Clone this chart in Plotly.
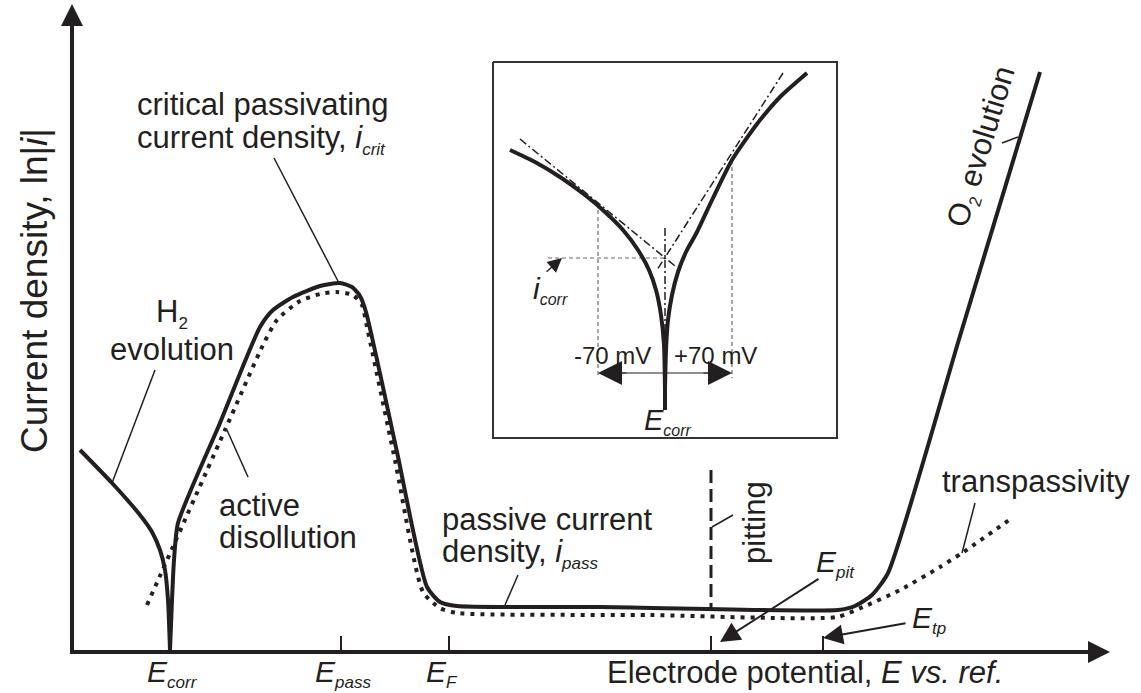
import plotly.graph_objects as go

W, H = 1141, 693
INK = "#231f20"
FONT = "Liberation Sans, Arial, Helvetica, sans-serif"

# ---------------- data (pixel-space schematic coordinates) ----------------
# cathodic H2-evolution branch of the measured curve (solid)
h2_x = [80, 112, 140, 152, 160, 165, 168, 170]
h2_y = [450, 483, 515, 532, 550, 570, 600, 650]
# anodic branch: active -> passive -> O2 evolution (solid)
an_x = [170, 172, 174, 178, 220, 260, 273, 293, 320, 340, 352, 360, 366, 397, 427, 440, 457, 600, 838, 855, 872, 888, 960, 1040]
an_y = [650, 600, 560, 523, 423, 327, 310, 297, 286, 283, 287, 296, 312, 452, 587, 602, 606, 607, 610, 606, 595, 573, 336, 72]
# metal dissolution partial curve incl. transpassivity (dotted)
dot_x = [147, 225, 263, 277, 300, 320, 337, 353, 362, 367, 395, 423, 440, 457, 650, 837, 863, 900, 940, 962, 1012]
dot_y = [605, 430, 345, 320, 301, 294, 292, 295, 305, 327, 460, 592, 608, 613, 615, 617, 607, 590, 567, 553, 518]

# inset (Tafel extrapolation)
cat_x = [510, 535, 560, 585, 605, 623, 638, 649, 656, 661, 664, 665]
cat_y = [150, 162, 177, 195, 212, 230, 250, 270, 290, 315, 345, 390]
ano_x = [665, 666, 668, 672, 678, 686, 697, 713, 732, 757, 780, 807]
ano_y = [390, 350, 320, 295, 272, 252, 232, 198, 160, 124, 97, 73]
tafel_c_x = [520, 675]
tafel_c_y = [139, 266]
tafel_a_x = [783, 657]
tafel_a_y = [73, 270]
e_corr_inset = 665
i_corr_inset = 258
e_minus70 = 598
e_plus70 = 732

# x-axis tick positions and labels
tick_x = [341, 449, 711, 823]
tick_lab_x = [172, 343, 442]
tick_lab = ["corr", "pass", "F"]

# ---------------- figure ----------------
fig = go.Figure()


def line(x, y, width=4, dash="solid", color=INK, smooth=None):
    kw = dict(color=color, width=width, dash=dash)
    if smooth:
        kw.update(shape="spline", smoothing=smooth)
    fig.add_trace(go.Scatter(x=x, y=y, mode="lines", line=kw,
                             hoverinfo="skip", showlegend=False))


# main curves
line(h2_x, h2_y, 4, smooth=0.6)
line(an_x, an_y, 4, smooth=0.6)
line(dot_x, dot_y, 4, dash="4px,6px", smooth=0.6)

# axes corner
line([72, 72, 300], [300, 652, 652], 4)

# ticks
tx, ty = [], []
for t in tick_x:
    tx += [t, t, None]
    ty += [636, 652, None]
line(tx, ty, 2)

# pitting dashed line
line([711, 711], [470, 608], 3, dash="13px,6px")

# leader lines
leaders = [((274, 158), (339, 283)), ((155, 370), (112, 483)), ((248, 477), (227, 430)),
           ((518, 575), (505, 605)), ((733, 515), (712, 527)), ((975, 503), (962, 553)),
           ((1002, 143), (1018, 137))]
lx, ly = [], []
for (a, b) in leaders:
    lx += [a[0], b[0], None]
    ly += [a[1], b[1], None]
line(lx, ly, 1.5)

# inset box
line([493, 837, 837, 493, 493], [62, 62, 438, 438, 62], 2, color="#333333")
# inset guide lines
g = "#6d6d6d"
line([548, e_corr_inset], [i_corr_inset, i_corr_inset], 1.2, dash="4px,3px", color=g)
line([e_minus70, e_minus70], [210, 378], 1.2, dash="4px,3px", color=g)
line([e_plus70, e_plus70], [160, 378], 1.2, dash="4px,3px", color=g)
line([e_minus70 + 20, e_plus70 - 20], [373, 373], 1.2)
# Tafel lines
dd = "8px,3px,2px,3px"
line(tafel_c_x, tafel_c_y, 1.5, dash=dd)
line(tafel_a_x, tafel_a_y, 1.5, dash=dd)
line([e_corr_inset, e_corr_inset], [228, 390], 1.5, dash=dd)
# inset curves
line(cat_x, cat_y, 4, smooth=0.6)
line(ano_x, ano_y, 4, smooth=0.6)
line([e_corr_inset, e_corr_inset], [345, 410], 4)

ann = []


def txt(x, y, s, size=31, xanchor="center", angle=0):
    ann.append(dict(x=x, y=y, xref="x", yref="y", text=s, showarrow=False,
                    font=dict(size=size, color=INK, family=FONT),
                    xanchor=xanchor, yanchor="middle", textangle=angle))


def arrow(x0, y0, x1, y1, width, size, side="end"):
    ann.append(dict(x=x1, y=y1, ax=x0, ay=y0, xref="x", yref="y", axref="x", ayref="y",
                    text="", showarrow=True, arrowhead=2, arrowsize=size, arrowwidth=width,
                    startarrowhead=2, startarrowsize=size, arrowside=side,
                    arrowcolor=INK, standoff=0, startstandoff=0))


def sub(s, px=17):
    return "<sub><span style='font-size:%dpx'>%s</span></sub>" % (px, s)


# axes arrows
arrow(72, 652, 72, 4, 4, 1.1)
arrow(72, 652, 1110, 652, 4, 1.1)

# axis titles
txt(34, 291, "Current density, ln|<i>i</i>|", 37, angle=-90)
txt(1005, 672, "Electrode potential, <i>E vs. ref.</i>", 31, xanchor="right")

# tick labels
for xx, lab in zip(tick_lab_x, tick_lab):
    txt(xx, 673, "<i>E</i>" + sub("<i>%s</i>" % lab), 30)

# annotations
txt(135, 104, "critical passivating", 31, xanchor="left")
txt(135, 139, "current density, <i>i</i>" + sub("<i>crit</i>"), 31, xanchor="left")
txt(172, 313, "H" + sub("2"), 31)
txt(172, 349, "evolution", 31)
txt(217, 505, "active", 31, xanchor="left")
txt(217, 537, "disollution", 31, xanchor="left")
txt(440, 519, "passive current", 31, xanchor="left")
txt(440, 553, "density, <i>i</i>" + sub("<i>pass</i>"), 31, xanchor="left")
txt(754, 523, "pitting", 31, angle=-90)
txt(1036, 481, "transpassivity", 31)
txt(982, 147, "O" + sub("2") + " evolution", 31, angle=-73)
txt(835, 563, "<i>E</i>" + sub("<i>pit</i>"), 30)
txt(929, 619, "<i>E</i>" + sub("<i>tp</i>"), 30)

arrow(820, 578, 720, 642, 2, 2.0)
arrow(907, 623, 823, 638, 2, 2.0)

# inset labels
txt(612, 355, "-70 mV", 24)
txt(715, 355, "+70 mV", 24)
txt(668, 421, "<i>E</i>" + sub("<i>corr</i>", 16), 29)
txt(550, 290, "<i>i</i>" + sub("<i>corr</i>", 16), 30)
arrow(545, 273, 562, 258, 1.3, 2.2)
arrow(e_minus70 + 30, 373, e_minus70, 373, 1.2, 4.0)
arrow(e_plus70 - 30, 373, e_plus70, 373, 1.2, 4.0)

fig.update_layout(
    width=W, height=H, margin=dict(l=0, r=0, t=0, b=0),
    paper_bgcolor="white", plot_bgcolor="white",
    xaxis=dict(range=[0, W], visible=False, fixedrange=True),
    yaxis=dict(range=[H, 0], visible=False, fixedrange=True),
    annotations=ann, showlegend=False,
)
fig.write_html("out.html")
